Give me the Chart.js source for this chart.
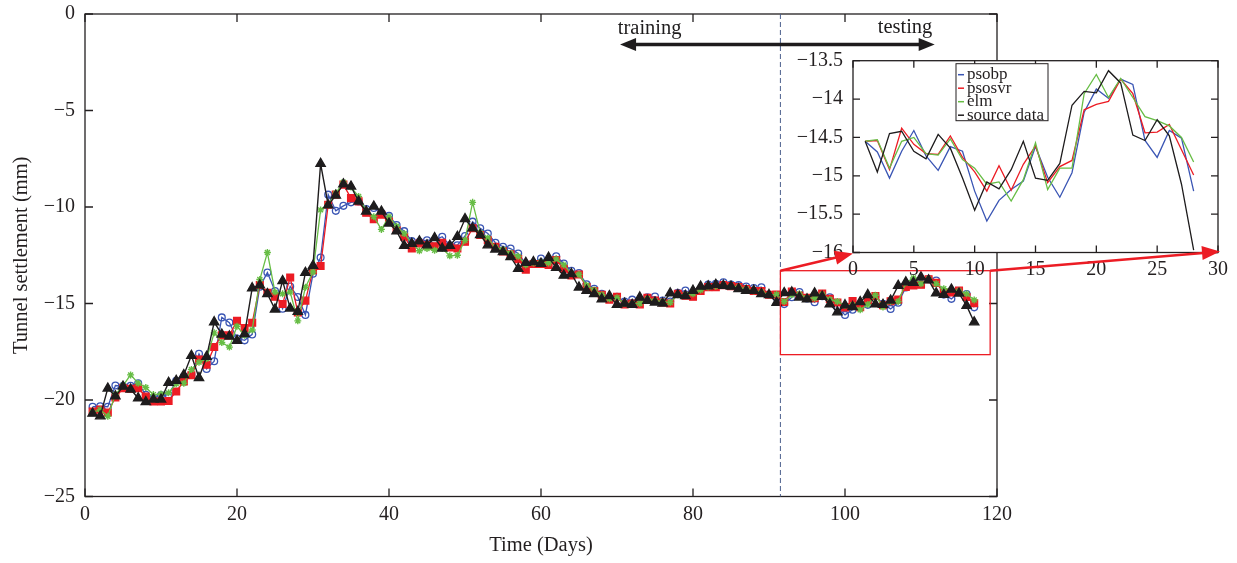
<!DOCTYPE html>
<html>
<head>
<meta charset="utf-8">
<script src="https://cdn.jsdelivr.net/npm/chart.js@4.4.1/dist/chart.umd.min.js"></script>
<style>
  html, body { margin: 0; background: #fff; }
  #wrap { position: relative; width: 1237px; height: 563px; }
  #main { position: absolute; left: 0; top: 0; }
  #zoom { position: absolute; left: 770px; top: 40px; }
</style>
</head>
<body>
<div id="wrap">
  <canvas id="main" width="1237" height="563"></canvas>
  <canvas id="zoom" width="467" height="260"></canvas>
</div>
<script>
// measured settlement (mm), days 1-89 used for training
const trainSource = [-20.7,-20.84,-19.4,-19.8,-19.3,-19.45,-19.9,-20.1,-19.97,-19.97,
  -19.1,-19.0,-18.7,-17.7,-18.85,-17.75,-15.96,-16.6,-16.7,-16.93,
  -16.57,-14.2,-14.05,-14.5,-15.3,-13.83,-15.25,-15.42,-13.4,-13.04,
  -7.76,-9.9,-9.4,-8.82,-8.93,-9.71,-10.23,-9.97,-10.23,-10.85,
  -11.25,-12.0,-11.9,-11.77,-11.98,-11.6,-12.15,-12.0,-11.54,-10.62,
  -11.1,-11.45,-11.98,-12.2,-12.33,-12.59,-13.2,-12.88,-12.85,-12.93,
  -12.62,-13.14,-13.55,-13.46,-14.16,-14.33,-14.5,-14.77,-14.61,-15.06,
  -15.0,-15.06,-14.68,-14.85,-14.94,-14.99,-14.47,-14.56,-14.6,-14.33,
  -14.12,-14.1,-14.02,-14.07,-14.12,-14.24,-14.33,-14.33,-14.5];
const trainPsobp = [-20.35,-20.33,-20.35,-19.25,-19.28,-19.26,-19.13,-19.73,-19.9,-19.75,
  -19.73,-19.0,-18.78,-18.69,-17.61,-18.39,-17.99,-15.72,-15.99,-16.81,
  -16.91,-16.6,-14.13,-13.4,-14.35,-15.27,-14.12,-14.66,-15.59,-13.46,
  -12.62,-9.36,-10.2,-9.94,-9.76,-9.71,-10.11,-10.05,-10.3,-10.46,
  -10.93,-11.25,-11.77,-11.8,-11.72,-11.72,-11.54,-11.98,-11.98,-11.5,
  -10.76,-11.1,-11.37,-11.85,-12.06,-12.15,-12.41,-12.95,-12.9,-12.67,
  -12.88,-12.55,-12.93,-13.3,-13.42,-14.0,-14.24,-14.5,-14.72,-14.65,
  -14.9,-14.8,-14.9,-14.68,-14.64,-14.85,-14.9,-14.45,-14.33,-14.55,
  -14.28,-14.02,-13.98,-13.9,-14.02,-14.05,-14.12,-14.2,-14.16];
const trainPsosvr = [-20.6,-20.5,-20.65,-19.87,-19.39,-19.42,-19.39,-19.82,-20.08,-20.08,
  -20.05,-19.56,-19.04,-18.72,-17.9,-18.17,-17.25,-16.65,-16.65,-15.9,
  -16.27,-16.0,-14.04,-14.45,-14.65,-15.03,-13.65,-15.46,-14.85,-13.28,
  -13.06,-9.88,-9.36,-8.84,-9.54,-9.71,-10.3,-10.63,-10.4,-10.76,
  -11.19,-11.54,-12.15,-11.89,-11.98,-12.03,-11.85,-12.1,-12.15,-11.8,
  -11.1,-11.45,-11.72,-12.06,-12.3,-12.45,-12.7,-13.25,-12.95,-12.95,
  -13.0,-12.75,-13.2,-13.55,-13.5,-14.15,-14.35,-14.55,-14.8,-14.65,
  -15.05,-15.0,-15.05,-14.7,-14.85,-14.95,-15.0,-14.5,-14.6,-14.65,
  -14.35,-14.15,-14.15,-14.05,-14.1,-14.15,-14.25,-14.35,-14.35];
const trainElm = [-20.65,-20.5,-20.84,-19.72,-19.26,-18.7,-19.13,-19.35,-19.72,-19.69,
  -19.63,-19.16,-19.13,-18.42,-18.05,-17.86,-16.52,-17.02,-17.26,-16.18,
  -16.65,-16.37,-13.76,-12.36,-14.41,-14.5,-14.41,-15.9,-14.16,-13.37,
  -10.15,-9.88,-9.28,-8.72,-8.97,-9.45,-10.2,-10.5,-11.16,-10.5,
  -11.0,-11.37,-11.9,-12.27,-12.15,-12.24,-12.15,-12.53,-12.5,-11.72,
  -9.76,-11.33,-11.6,-12.1,-12.2,-12.4,-12.55,-13.0,-12.9,-12.85,
  -12.9,-12.7,-13.0,-13.45,-13.5,-14.05,-14.3,-14.55,-14.75,-14.7,
  -15.0,-15.0,-15.0,-14.75,-14.85,-14.9,-14.95,-14.55,-14.55,-14.5,
  -14.3,-14.15,-14.1,-14.05,-14.1,-14.15,-14.25,-14.35,-14.4];

// testing part, days 90-117 (points 1-28 of the zoomed plot)
const testSource = [-14.55,-14.95,-14.45,-14.42,-14.68,-14.78,-14.46,-14.64,-15.03,-15.45,
  -15.08,-15.17,-14.92,-14.55,-15.03,-15.06,-14.84,-14.08,-13.9,-13.92,
  -13.63,-13.79,-14.47,-14.54,-14.27,-14.48,-15.11,-15.97];
const testPsobp = [-14.55,-14.69,-15.03,-14.68,-14.41,-14.74,-14.93,-14.62,-14.68,-15.2,
  -15.59,-15.32,-15.18,-15.07,-14.62,-15.02,-15.28,-14.96,-14.17,-13.87,
  -13.99,-13.74,-13.81,-14.54,-14.76,-14.41,-14.51,-15.2];
const testPsosvr = [-14.55,-14.54,-14.92,-14.38,-14.59,-14.71,-14.72,-14.48,-14.76,-14.95,
  -15.2,-14.87,-15.19,-14.85,-14.61,-15.09,-14.88,-14.8,-14.14,-14.07,
  -14.03,-13.74,-13.93,-14.44,-14.43,-14.33,-14.66,-14.99];
const testElm = [-14.55,-14.53,-14.9,-14.55,-14.5,-14.71,-14.73,-14.52,-14.79,-14.9,
  -15.11,-15.08,-15.33,-15.05,-14.57,-15.18,-14.9,-14.9,-13.93,-13.68,
  -13.98,-13.73,-13.98,-14.23,-14.28,-14.35,-14.5,-14.82];

const mainXTicks = [0, 20, 40, 60, 80, 100, 120];
const mainYTicks = [-25, -20, -15, -10, -5, 0];
const zoomXTicks = [0, 5, 10, 15, 20, 25, 30];
const zoomYTicks = [-16, -15.5, -15, -14.5, -14, -13.5];

const splitDay = 91.5;
const zoomBox = { x0: 91.5, x1: 119.1, y0: -13.3, y1: -17.65 };

const C = { blue: '#3a55b4', red: '#ec1c24', green: '#67bd45', black: '#1e1c1d', axis: '#231f20' };
const serif = '"Liberation Serif", "DejaVu Serif", serif';
Chart.defaults.font.family = serif;
Chart.defaults.color = C.axis;

const pts = (vals, start) => vals.map((v, i) => ({ x: start + i, y: v }));
const minus = v => (v < 0 ? '\u2212' + Math.abs(v) : String(v));
// fixed axis boxes, label overflow is covered by the layout padding
const fixBox = (w, h) => s => {
  if (w != null) s.width = w;
  if (h != null) s.height = h;
  s.paddingTop = s.paddingBottom = s.paddingLeft = s.paddingRight = 0;
};

function drawFrame(chart, xt, yt, len) {
  const { ctx, chartArea: a, scales: { x, y } } = chart;
  ctx.save();
  ctx.strokeStyle = C.axis;
  ctx.lineWidth = 1.3;
  ctx.strokeRect(a.left, a.top, a.right - a.left, a.bottom - a.top);
  ctx.beginPath();
  xt.forEach(v => {
    const p = x.getPixelForValue(v);
    ctx.moveTo(p, a.bottom); ctx.lineTo(p, a.bottom - len);
    ctx.moveTo(p, a.top); ctx.lineTo(p, a.top + len);
  });
  yt.forEach(v => {
    const p = y.getPixelForValue(v);
    ctx.moveTo(a.left, p); ctx.lineTo(a.left + len, p);
    ctx.moveTo(a.right, p); ctx.lineTo(a.right - len, p);
  });
  ctx.stroke();
  ctx.restore();
}

function arrowHead(ctx, fx, fy, tx, ty, l, w) {
  const ang = Math.atan2(ty - fy, tx - fx);
  ctx.beginPath();
  ctx.moveTo(tx, ty);
  ctx.lineTo(tx - l * Math.cos(ang) + w * Math.sin(ang), ty - l * Math.sin(ang) - w * Math.cos(ang));
  ctx.lineTo(tx - l * Math.cos(ang) - w * Math.sin(ang), ty - l * Math.sin(ang) + w * Math.cos(ang));
  ctx.closePath();
  ctx.fill();
}

const mainDecor = {
  id: 'mainDecor',
  afterDraw(chart) {
    const { ctx, chartArea: a, scales: { x, y } } = chart;
    drawFrame(chart, mainXTicks, mainYTicks, 8);
    ctx.save();
    // train / test split
    ctx.strokeStyle = '#4a5f8c';
    ctx.lineWidth = 1;
    ctx.setLineDash([5, 3]);
    const sx = x.getPixelForValue(splitDay);
    ctx.beginPath(); ctx.moveTo(sx, a.top); ctx.lineTo(sx, a.bottom); ctx.stroke();
    ctx.setLineDash([]);
    // zoom window
    ctx.strokeStyle = C.red;
    ctx.lineWidth = 1.3;
    const bx0 = x.getPixelForValue(zoomBox.x0), bx1 = x.getPixelForValue(zoomBox.x1);
    const by0 = y.getPixelForValue(zoomBox.y0), by1 = y.getPixelForValue(zoomBox.y1);
    ctx.strokeRect(bx0, by0, bx1 - bx0, by1 - by0);
    // training <-> testing arrow
    const ax0 = x.getPixelForValue(70.4), ax1 = x.getPixelForValue(111.8), ay = y.getPixelForValue(-1.58);
    ctx.strokeStyle = C.black; ctx.fillStyle = C.black; ctx.lineWidth = 3.5;
    ctx.beginPath(); ctx.moveTo(ax0 + 10, ay); ctx.lineTo(ax1 - 10, ay); ctx.stroke();
    arrowHead(ctx, ax1 - 20, ay, ax1, ay, 16, 6.5);
    arrowHead(ctx, ax0 + 20, ay, ax0, ay, 16, 6.5);
    ctx.font = '20.5px ' + serif;
    ctx.textAlign = 'center'; ctx.textBaseline = 'middle';
    ctx.fillText('training', x.getPixelForValue(74.3), y.getPixelForValue(-0.78));
    ctx.fillText('testing', x.getPixelForValue(107.9), y.getPixelForValue(-0.68));
    ctx.restore();
  }
};

const mainChart = new Chart(document.getElementById('main'), {
  type: 'line',
  data: {
    datasets: [
      { label: 'source data', data: pts(trainSource.concat(testSource), 1), borderColor: C.black, backgroundColor: C.black,
        pointStyle: 'triangle', pointRadius: 5.3, borderWidth: 1.4 },
      { label: 'elm', data: pts(trainElm.concat(testElm), 1), borderColor: C.green, backgroundColor: C.green,
        pointStyle: 'star', pointRadius: 3.5, pointBorderWidth: 1.4, borderWidth: 1.3 },
      { label: 'psosvr', data: pts(trainPsosvr.concat(testPsosvr), 1), borderColor: C.red, backgroundColor: C.red,
        pointStyle: 'rect', pointRadius: 4.8, borderWidth: 1.3 },
      { label: 'psobp', data: pts(trainPsobp.concat(testPsobp), 1), borderColor: C.blue, backgroundColor: 'rgba(255,255,255,0)',
        pointStyle: 'circle', pointRadius: 3.4, pointBorderWidth: 1.3, borderWidth: 1.3 }
    ]
  },
  options: {
    responsive: false, animation: false, devicePixelRatio: 1,
    layout: { padding: { top: 14, right: 240, left: 0, bottom: 0 } },
    plugins: { legend: { display: false }, tooltip: { enabled: false } },
    elements: { line: { tension: 0 } },
    scales: {
      x: {
        type: 'linear', min: 0, max: 120,
        afterBuildTicks: s => { s.ticks = mainXTicks.map(v => ({ value: v })); },
        afterFit: fixBox(null, 66.5),
        grid: { display: false, drawTicks: false }, border: { display: false },
        ticks: { font: { size: 20 }, padding: 6.5, maxRotation: 0, color: C.axis },
        title: { display: true, text: 'Time (Days)', font: { size: 20.5 }, padding: { top: 0, bottom: 5 }, color: C.axis }
      },
      y: {
        min: -25, max: 0,
        afterBuildTicks: s => { s.ticks = mainYTicks.map(v => ({ value: v })); },
        afterFit: fixBox(85, null),
        grid: { display: false, drawTicks: false }, border: { display: false },
        ticks: { font: { size: 20 }, padding: 10, callback: minus, color: C.axis },
        title: { display: true, text: 'Tunnel settlement (mm)', font: { size: 20.5 }, padding: { top: 9, bottom: 0 }, color: C.axis }
      }
    }
  },
  plugins: [mainDecor]
});

const zoomEl = document.getElementById('zoom');
const zoomLeft = 770, zoomTop = 40;

const zoomDecor = {
  id: 'zoomDecor',
  beforeDraw(chart) {
    const { ctx, chartArea: a } = chart;
    ctx.save();
    ctx.fillStyle = '#fff';
    ctx.fillRect(a.left, a.top, a.right - a.left, a.bottom - a.top);
    ctx.restore();
  },
  afterDraw(chart) {
    const { ctx, chartArea: a } = chart;
    drawFrame(chart, zoomXTicks, zoomYTicks, 7);
    ctx.save();
    // legend box
    const lx = a.left + 103, ly = a.top + 3, lw = 92, lh = 57;
    ctx.fillStyle = '#fff';
    ctx.fillRect(lx, ly, lw, lh);
    ctx.strokeStyle = C.axis; ctx.lineWidth = 1;
    ctx.strokeRect(lx, ly, lw, lh);
    ctx.font = '17px ' + serif;
    ctx.textBaseline = 'middle'; ctx.textAlign = 'left';
    chart.data.datasets.slice().reverse().forEach((d, i) => {
      const ry = ly + 11 + i * 13.5;
      ctx.strokeStyle = d.borderColor; ctx.lineWidth = 1.5;
      ctx.beginPath(); ctx.moveTo(lx + 2, ry); ctx.lineTo(lx + 8, ry); ctx.stroke();
      ctx.fillStyle = C.axis;
      ctx.fillText(d.label, lx + 11, ry);
    });
    // arrows from the zoom window to the plot corners
    const mx = mainChart.scales.x, my = mainChart.scales.y;
    const fromL = { x: mx.getPixelForValue(zoomBox.x0) - zoomLeft, y: my.getPixelForValue(zoomBox.y0) - zoomTop };
    const fromR = { x: mx.getPixelForValue(zoomBox.x1) - zoomLeft, y: my.getPixelForValue(zoomBox.y0) - zoomTop };
    ctx.strokeStyle = C.red; ctx.fillStyle = C.red; ctx.lineWidth = 2.5;
    [[fromL, { x: a.left, y: a.bottom + 1 }], [fromR, { x: a.right + 2, y: a.bottom - 1 }]].forEach(([f, t]) => {
      const ang = Math.atan2(t.y - f.y, t.x - f.x);
      ctx.beginPath(); ctx.moveTo(f.x, f.y); ctx.lineTo(t.x - 14 * Math.cos(ang), t.y - 14 * Math.sin(ang)); ctx.stroke();
      arrowHead(ctx, f.x, f.y, t.x, t.y, 18, 7);
    });
    ctx.restore();
  }
};

new Chart(zoomEl, {
  type: 'line',
  data: {
    datasets: [
      { label: 'source data', data: pts(testSource, 1), borderColor: C.black },
      { label: 'elm', data: pts(testElm, 1), borderColor: C.green },
      { label: 'psosvr', data: pts(testPsosvr, 1), borderColor: C.red },
      { label: 'psobp', data: pts(testPsobp, 1), borderColor: C.blue }
    ]
  },
  options: {
    responsive: false, animation: false, devicePixelRatio: 1,
    layout: { padding: { top: 20.7, right: 19, left: 0, bottom: 0 } },
    plugins: { legend: { display: false }, tooltip: { enabled: false } },
    elements: { line: { tension: 0, borderWidth: 1.3 }, point: { radius: 0 } },
    scales: {
      x: {
        type: 'linear', min: 0, max: 30,
        afterBuildTicks: s => { s.ticks = zoomXTicks.map(v => ({ value: v })); },
        afterFit: fixBox(null, 47.5),
        grid: { display: false, drawTicks: false }, border: { display: false },
        ticks: { font: { size: 20 }, padding: 5, maxRotation: 0, color: C.axis }
      },
      y: {
        min: -16, max: -13.5,
        afterBuildTicks: s => { s.ticks = zoomYTicks.map(v => ({ value: v })); },
        afterFit: fixBox(83, null),
        grid: { display: false, drawTicks: false }, border: { display: false },
        ticks: { font: { size: 20 }, padding: 10, callback: minus, color: C.axis }
      }
    }
  },
  plugins: [zoomDecor]
});
</script>
</body>
</html>
